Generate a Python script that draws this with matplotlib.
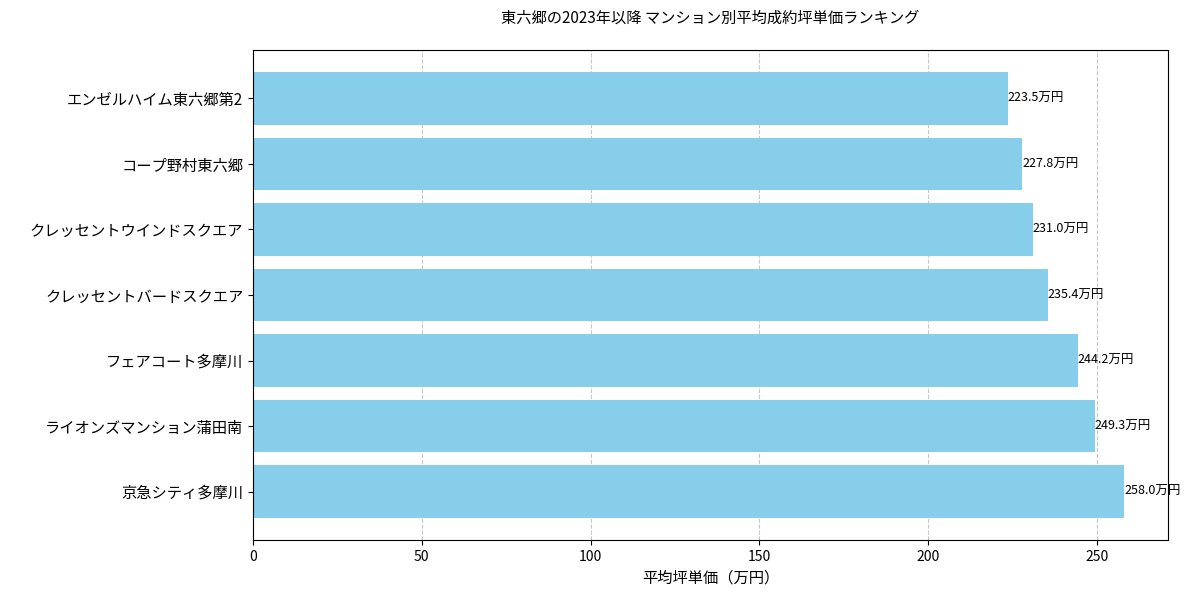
import matplotlib
matplotlib.use("Agg")
import matplotlib.pyplot as plt

plt.rcParams['font.family'] = ['Noto Sans CJK JP', 'DejaVu Sans']

names = ["京急シティ多摩川", "ライオンズマンション蒲田南", "フェアコート多摩川",
         "クレッセントバードスクエア", "クレッセントウインドスクエア", "コープ野村東六郷",
         "エンゼルハイム東六郷第2"]
values = [258.0, 249.3, 244.2, 235.4, 231.0, 227.8, 223.5]

fig = plt.figure(figsize=(11.93, 5.93), dpi=100)
ax = fig.add_axes([253/1193, 1-540/593, (1168-253)/1193, (540-50)/593])
bars = ax.barh(names, values, color='skyblue', height=0.8)
for b, v in zip(bars, values):
    ax.text(v, b.get_y() + b.get_height()/2, f"{v:.1f}万円", va='center', ha='left', fontsize=9)
ax.set_xlim(0, 271)
ax.grid(axis='x', linestyle='--', alpha=0.7)
ax.set_axisbelow(True)
ax.tick_params(axis='y', labelsize=11)
ax.tick_params(axis='x', labelsize=10)
ax.set_xlabel("平均坪単価（万円）", fontsize=11)
ax.set_title("東六郷の2023年以降 マンション別平均成約坪単価ランキング", fontsize=11, pad=20)
fig.savefig("out.png", dpi=100)
